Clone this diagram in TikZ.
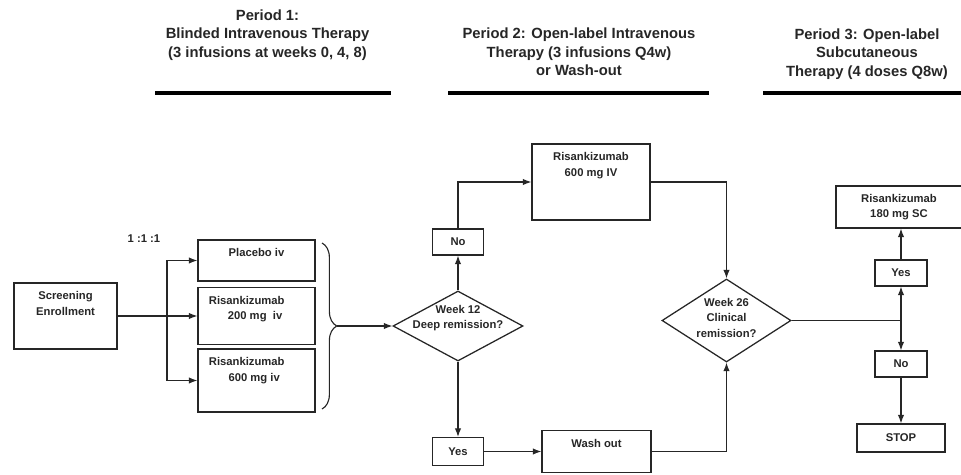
\documentclass[tikz,border=0pt]{standalone}
\usepackage{fontspec}
\setmainfont{Liberation Sans}
\usepackage{tikz}
\usetikzlibrary{shapes,arrows,arrows.meta,positioning,decorations.pathreplacing}

\begin{document}
\begin{tikzpicture}[x=0.025cm, y=-0.025cm, color=black!85,
        box/.style={draw, rectangle, line width=0.9pt, inner sep=0pt},
        lbl/.style={font=\bfseries\fontsize{8}{11}\selectfont, align=center, inner sep=2pt},
        toptxt/.style={label={[lbl, anchor=north, yshift=-4.5pt]north:{#1}}},
        lefttxt/.style={label={[lbl, align=left, anchor=north west, xshift=6pt, yshift=-4.5pt]north west:{#1}}},
        dec/.style={draw, diamond, line width=0.9pt, inner sep=0pt},
        head/.style={font=\bfseries\fontsize{10.5}{13}\selectfont, align=center},
        arr/.style={-{Latex[length=6pt,width=4.5pt]}, line width=0.8pt},
        rule/.style={line width=2.2pt, color=black}]
        \useasboundingbox (0,0) rectangle (961,474);

        \node[head] (p1) at (267.5,35) {Period 1:\\Blinded Intravenous Therapy\\(3 infusions at weeks 0, 4, 8)};
        \node[head] (p2) at (579,52) {Period 2: Open-label Intravenous\\Therapy (3 infusions Q4w)\\or Wash-out};
        \node[head] (p3) at (867,54) {Period 3: Open-label\\Subcutaneous\\Therapy (4 doses Q8w)};
        \draw[rule] (155,93) -- (391,93);
        \draw[rule] (448,93) -- (709,93);
        \draw[rule] (763,93) -- (961,93);

        \node[box, minimum width=2.575cm, minimum height=1.65cm, toptxt={Screening\\Enrollment}] (scr) at (65.5,316) {};
        \node[lbl] (ratio) at (144,239) {1 :1 :1};
        \node[box, minimum width=2.925cm, minimum height=1.025cm, toptxt={Placebo iv}] (plc) at (256.5,260.5) {};
        \node[box, minimum width=2.925cm, minimum height=1.425cm, lefttxt={Risankizumab\\\hspace*{13.5pt}200 mg\ \ iv}] (r200) at (256.5,316) {};
        \node[box, minimum width=2.925cm, minimum height=1.575cm, lefttxt={Risankizumab\\\hspace*{14pt}600 mg iv}] (r600) at (256.5,380.5) {};

        \coordinate (brtop) at (322,243);
        \coordinate (brbot) at (322,409);
        \coordinate (brtip) at (337,326);
        \draw[line width=0.8pt, decorate, decoration={brace, amplitude=10.5pt}] (brtop) -- (brbot);

        \node[dec, minimum width=3.25cm, minimum height=1.75cm, label={[lbl, yshift=5.5pt]center:{Week 12\\Deep remission?}}] (wk12) at (458,326) {};
        \node[box, lbl, minimum width=1.275cm, minimum height=0.65cm] (no1) at (458,242) {No};
        \node[box, lbl, minimum width=1.275cm, minimum height=0.7cm] (yes1) at (458,451.5) {Yes};
        \node[box, minimum width=2.95cm, minimum height=1.9cm, toptxt={Risankizumab\\600 mg IV}] (iv) at (591,182) {};
        \node[box, minimum width=2.725cm, minimum height=1.05cm, toptxt={Wash out}] (wash) at (596.5,451.5) {};

        \node[dec, minimum width=3.225cm, minimum height=2.075cm, label={[lbl, yshift=2pt]center:{Week 26\\Clinical\\remission?}}] (wk26) at (726.5,320.5) {};
        \node[box, lbl, minimum width=3.15cm, minimum height=1.05cm] (sc) at (899,207) {Risankizumab\\180 mg SC};
        \node[box, lbl, minimum width=1.3cm, minimum height=0.65cm] (yes2) at (901,273) {Yes};
        \node[box, lbl, minimum width=1.3cm, minimum height=0.65cm] (no2) at (901,364) {No};
        \node[box, lbl, minimum width=2.2cm, minimum height=0.7cm] (stop) at (901,438) {STOP};

        \coordinate (split) at (167,316);
        \coordinate (fork) at (901,320.5);
        \draw[arr] (scr.east) -- (r200.west);
        \draw[arr] (split) |- (plc.west);
        \draw[arr] (split) |- (r600.west);
        \draw[arr] (brtip) -- (wk12.west);
        \draw[arr] (wk12.north) -- (no1.south);
        \draw[arr] (no1.north) |- (iv.west);
        \draw[arr] (wk12.south) -- (yes1.north);
        \draw[arr] (yes1.east) -- (wash.west);
        \draw[arr] (iv.east) -| (wk26.north);
        \draw[arr] (wash.east) -| (wk26.south);
        \draw[line width=0.8pt] (wk26.east) -- (fork);
        \draw[arr] (fork) -- (yes2.south);
        \draw[arr] (fork) -- (no2.north);
        \draw[arr] (yes2.north) -- (yes2.north |- sc.south);
        \draw[arr] (no2.south) -- (stop.north);
    \end{tikzpicture}
\end{document}
